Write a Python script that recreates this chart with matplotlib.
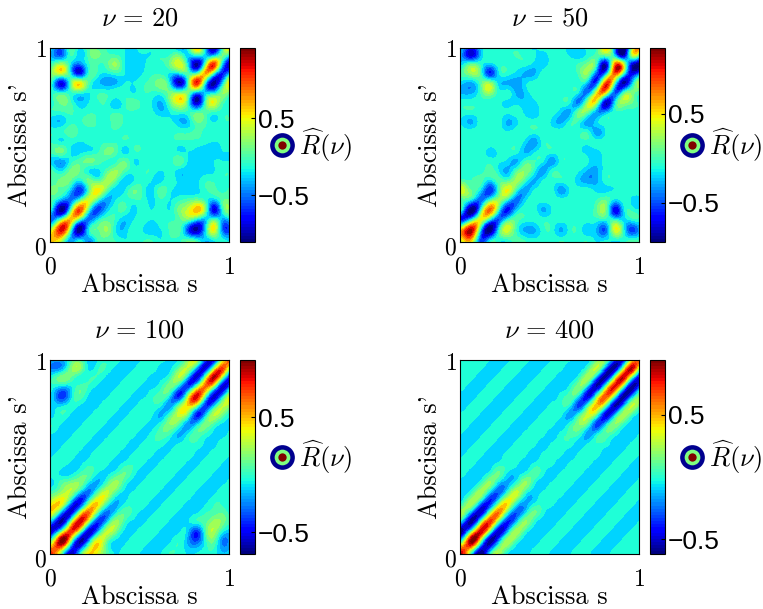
import numpy as np
import matplotlib
matplotlib.use('Agg')
import matplotlib.pyplot as plt
from matplotlib.cm import ScalarMappable
from matplotlib.colors import ListedColormap, Normalize
from matplotlib.transforms import ScaledTranslation

plt.rcParams['mathtext.fontset'] = 'cm'

# Values, rows go from s'=0 up to s'=1
field_20 = [
    [.7,.5,-.3,-.2,-.3,.05,.1,0,-.1,-.05,0,0,-.1,0,0,.05,-.1,-.2,0,-.1,-.2],
    [.5,1.25,.2,-1.0,-.1,.15,.3,-.1,-.2,0,-.1,-.2,-.1,.05,.1,-.5,-.9,-.1,.55,-.5,-.3],
    [-.4,.3,.75,.1,-.4,-.1,.1,0,-.2,-.1,0,-.1,0,0,.1,.2,-.1,-.2,.1,-.3,.05],
    [-.2,-1.0,.1,1.05,.1,-.55,-.2,0,.05,-.15,0,-.1,0,-.1,.2,.45,.75,.2,-.75,.1,.15],
    [.05,-.3,-.4,.1,.5,.05,-.3,-.1,0,0,0,-.15,0,-.1,0,.1,.2,0,-.2,.15,.1],
    [.2,.1,-.2,-.6,.1,.6,.15,-.2,-.1,.15,0,-.15,.1,-.05,-.15,-.2,-.15,0,.05,0,.1],
    [.1,.2,.15,-.1,.2,.1,.35,.15,-.2,-.1,0,-.1,-.15,0,-.15,-.2,-.15,0,0,0,0],
    [.05,-.1,.2,.15,-.1,-.15,.1,.3,.1,-.05,0,0,-.1,-.05,-.15,-.2,-.2,-.15,-.1,0,0],
    [-.2,-.3,-.05,.1,.2,.1,0,0,.15,-.1,-.05,0,0,-.05,.15,-.1,-.15,-.15,-.1,-.1,-.1],
    [.1,.2,-.1,-.15,-.1,0,.2,.1,-.15,0,0,0,0,0,-.1,-.1,-.15,-.2,-.15,-.1,-.1],
    [0,-.1,-.05,-.1,-.05,0,0,0,0,0,0,0,0,0,0,0,0,-.05,-.1,-.05,0],
    [0,0,.1,0,-.05,0,0,0,0,0,0,0,0,0,0,0,.05,0,0,0,0],
    [-.2,-.2,0,0,.1,0,-.05,.1,0,0,0,0,0,-.05,-.2,-.2,.15,.05,-.1,0,0],
    [0,0,.05,-.05,0,0,0,0,0,0,0,-.05,-.2,-.1,0,0,.1,.1,0,0,0],
    [0,.2,.05,-.2,-.1,0,0,-.2,0,.1,0,-.1,-.25,.15,.55,.1,-.85,.1,.5,.05,0],
    [0,0,0,0,-.1,0,0,0,0,-.1,0,0,0,.2,.3,.2,-.3,-.2,-.1,.3,0],
    [-.1,-.75,.15,.6,.1,-.2,-.3,-.25,-.1,-.1,0,.1,.25,-.1,-.85,0,1.15,-.1,-.9,0,.9],
    [.3,.45,-.1,-.7,0,0,-.1,0,-.1,-.2,-.1,0,0,-.1,-.1,.1,.1,.8,0,-.6,.1],
    [.05,.3,-.1,-.35,0,.05,.1,.3,-.1,-.2,-.15,0,0,.2,.5,-.1,-.9,.2,1.05,-.3,-.85],
    [-.3,-.5,.05,-.2,.1,.2,.05,0,-.1,-.15,-.1,-.1,0,0,.1,-.15,.2,-.2,-.4,.2,-.1],
    [-.1,-.2,.1,0,.1,0,0,-.1,-.1,-.1,0,0,-.1,0,-.4,.1,.8,-.1,-.8,.2,1.2],
]
field_50 = [
    [.6,.7,-.4,-.2,0,.05,.1,0,-.05,0,0,0,0,0,0,-.1,-.1,0,0,0,0],
    [.7,1.15,0,-.9,-.1,.45,.05,-.2,-.2,0,0,-.2,0,0,-.15,-.2,-.35,.45,0,-.45,-.1],
    [-.5,0,.5,0,-.4,0,.1,0,0,0,0,0,0,0,0,0,0,0,-.1,0,0],
    [-.1,-.9,0,.85,.1,-.55,-.15,0,0,-.2,-.05,0,0,0,0,.15,.2,-.6,-.1,0,-.05],
    [.1,-.1,-.35,.1,.3,0,-.35,-.1,0,0,0,0,0,0,0,.05,.15,-.1,0,-.1,-.1],
    [.45,.15,-.1,-.5,.05,.5,.05,-.25,-.05,0,0,-.25,-.05,0,0,-.1,-.1,-.05,0,0,0],
    [.1,.05,.1,-.1,.1,.1,.3,.05,-.2,-.05,0,0,0,-.15,-.25,-.2,0,0,0,0,0],
    [-.05,0,0,.1,-.05,-.2,.1,.25,0,-.25,0,0,0,-.05,-.2,-.2,0,0,0,0,0],
    [0,0,0,0,-.05,-.1,-.2,.05,.05,-.05,-.25,0,0,0,-.05,-.15,0,0,0,0,0],
    [-.05,0,0,-.1,-.05,0,0,-.2,-.1,0,0,0,0,-.05,-.1,-.1,0,0,0,0,0],
    [0,-.05,0,0,0,0,0,-.1,-.25,0,0,0,0,0,0,0,0,0,0,0,0],
    [0,0,0,0,0,-.05,0,0,0,0,0,0,0,0,0,-.25,-.05,0,0,0,0],
    [-.1,-.2,0,0,0,-.2,-.1,0,0,0,-.1,-.2,0,0,-.25,-.1,0,0,0,0,0],
    [0,0,0,0,0,-.05,0,-.1,-.15,0,0,-.15,-.2,.2,.15,-.25,-.2,0,0,0,0],
    [0,0,0,-.05,-.05,-.1,-.1,-.15,-.1,0,0,0,-.05,-.3,.35,.35,-.7,-.1,.3,.15,0],
    [-.2,-.2,.05,.3,0,0,-.2,-.15,0,0,0,0,0,-.1,-.3,.55,.55,-.4,.1,.2,.05],
    [-.15,-.2,.1,.3,-.1,-.2,-.25,-.1,0,0,0,0,0,0,-.2,-.35,.95,.15,-.75,-.1,.45],
    [.1,.3,.1,-.5,-.1,0,-.1,-.2,-.2,0,0,0,0,.1,.25,-.4,-.2,.9,.1,-.6,-.2],
    [-.1,.1,0,-.1,0,0,0,0,-.1,-.15,0,0,0,.05,.2,0,-.65,.75,.4,-.6,-.7],
    [-.3,-.7,-.2,0,0,0,.05,0,-.05,-.1,0,0,-.1,-.15,-.05,.1,.3,-.2,-.85,.5,.1],
    [-.1,-.2,-.05,0,0,0,0,-.05,-.1,0,0,0,-.15,-.1,0,.1,.55,-.1,-.7,.1,1.1],
]
field_100 = [
    [.65,.25,-.5,-.2,.35,.35,.05,-.12,-.05,-.04,-.11,-.14,-.11,-.02,-.04,-.12,-.12,-.04,-.05,-.2,-.1],
    [.25,.98,.2,-.62,-.2,.38,.1,-.12,-.12,-.04,-.04,-.11,-.14,-.11,-.02,-.2,-.35,-.04,.05,-.3,-.1],
    [-.5,.2,.72,.18,-.55,-.2,.25,.12,-.12,-.12,-.04,-.04,-.11,-.14,-.11,-.15,-.42,.05,.2,-.1,-.12],
    [-.3,-.62,.18,.82,.2,-.42,-.15,.2,0,-.12,-.12,-.04,-.04,-.11,-.14,-.11,-.04,.05,.2,.1,-.04],
    [.35,-.2,-.55,.2,.6,.1,-.3,-.1,.05,-.04,-.12,-.12,-.04,-.04,-.11,-.14,-.11,-.02,.03,.05,-.12],
    [.35,.38,-.2,-.5,.1,.42,.08,-.2,-.1,-.04,-.04,-.12,-.12,-.04,-.04,-.11,-.14,-.11,-.02,-.04,-.12],
    [.05,.2,.22,-.15,-.3,.08,.28,.03,-.12,-.08,-.04,-.04,-.12,-.12,-.04,-.04,-.11,-.14,-.11,-.02,-.04],
    [-.12,.05,.15,.15,-.1,-.2,.03,.2,-.02,-.13,-.08,-.04,-.04,-.12,-.12,-.04,-.04,-.11,-.14,-.11,-.02],
    [-.05,-.12,-.12,0,.05,-.1,-.12,-.02,.08,-.06,-.13,-.08,-.04,-.04,-.12,-.12,-.04,-.04,-.11,-.14,-.11],
    [-.04,-.04,-.12,-.12,-.04,-.04,-.08,-.13,-.06,-.02,-.08,-.13,-.08,-.04,-.04,-.12,-.12,-.04,-.04,-.11,-.14],
    [-.11,-.04,-.04,-.12,-.12,-.04,-.04,-.08,-.13,-.08,-.04,-.08,-.13,-.08,-.04,-.04,-.12,-.12,-.04,-.04,-.11],
    [-.14,-.11,-.04,-.04,-.12,-.12,-.04,-.04,-.08,-.13,-.08,-.04,-.06,-.13,-.08,-.04,-.04,-.12,-.12,-.04,-.04],
    [-.11,-.14,-.11,-.04,-.04,-.12,-.12,-.04,-.04,-.08,-.13,-.06,.03,-.02,-.2,-.08,.04,-.04,-.12,-.12,-.04],
    [-.02,-.11,-.14,-.11,-.04,-.04,-.12,-.12,-.04,-.04,-.08,-.13,-.02,.15,.03,-.25,-.1,.12,-.02,-.12,-.12],
    [-.12,-.02,-.11,-.14,-.11,-.04,-.04,-.12,-.12,-.04,-.04,-.08,-.2,.03,.27,.1,-.45,-.12,.25,.05,-.1],
    [-.12,-.12,-.04,-.1,-.14,-.11,-.04,-.04,-.12,-.12,-.04,-.04,-.08,-.25,.1,.42,.2,-.42,-.1,.25,.15],
    [-.15,-.42,-.15,.05,-.11,-.14,-.11,-.04,-.04,-.12,-.12,-.04,.04,-.1,-.45,.2,.8,.1,-.55,-.1,.45],
    [-.05,-.12,-.1,.02,-.02,-.11,-.14,-.11,-.04,-.04,-.12,-.12,-.04,.12,-.12,-.42,.1,.6,.15,-.55,-.1],
    [-.04,.12,.1,-.05,-.04,-.02,-.11,-.14,-.11,-.04,-.04,-.12,-.12,-.02,.25,-.1,-.55,.15,.85,.15,-.65],
    [-.3,-.25,.1,.2,-.12,-.04,-.02,-.11,-.14,-.11,-.04,-.04,-.12,-.12,.05,.25,-.1,-.55,.15,.65,.15],
    [-.1,-.1,-.04,-.04,-.12,-.12,-.04,-.02,-.11,-.14,-.11,-.04,-.04,-.12,-.12,.1,.42,-.2,-.62,.15,.8],
]
field_400 = [
    [.7,.15,-.55,-.2,.2,0,-.12,-.12,-.04,-.01,-.09,-.14,-.09,-.02,-.04,-.12,-.12,-.04,-.01,-.01,-.02],
    [.15,.9,.2,-.58,-.2,.22,.02,-.12,-.12,-.04,-.01,-.09,-.14,-.09,-.02,-.04,-.12,-.12,-.04,-.01,-.01],
    [-.55,.2,.78,.15,-.52,-.15,.22,0,-.12,-.12,-.04,-.01,-.09,-.14,-.09,-.02,-.04,-.12,-.12,-.04,-.01],
    [-.2,-.58,.15,.68,.1,-.4,-.12,.18,-.02,-.12,-.12,-.04,-.01,-.09,-.14,-.09,-.02,-.04,-.12,-.12,-.04],
    [.2,-.2,-.52,.1,.55,.07,-.3,-.1,.1,-.04,-.12,-.12,-.04,-.01,-.09,-.14,-.09,-.02,-.04,-.12,-.12],
    [0,.22,-.15,-.4,.07,.38,.03,-.18,-.08,-.01,-.04,-.12,-.12,-.04,-.01,-.09,-.14,-.09,-.02,-.04,-.12],
    [-.12,.02,.22,-.12,-.3,.03,.28,0,-.12,-.05,-.01,-.04,-.12,-.12,-.04,-.01,-.09,-.14,-.09,-.02,-.04],
    [-.12,-.12,0,.18,-.1,-.18,0,.18,-.03,-.13,-.05,-.01,-.04,-.12,-.12,-.04,-.01,-.09,-.14,-.09,-.02],
    [-.04,-.12,-.12,-.02,.1,-.08,-.12,-.03,.06,-.05,-.13,-.05,-.01,-.04,-.12,-.12,-.04,-.01,-.09,-.14,-.09],
    [-.01,-.04,-.12,-.12,-.04,-.01,-.05,-.13,-.05,-.03,-.05,-.13,-.05,-.01,-.04,-.12,-.12,-.04,-.01,-.09,-.14],
    [-.09,-.01,-.04,-.12,-.12,-.04,-.01,-.05,-.13,-.05,-.03,-.05,-.13,-.05,-.01,-.04,-.12,-.12,-.04,-.01,-.09],
    [-.14,-.09,-.01,-.04,-.12,-.12,-.04,-.01,-.05,-.13,-.05,-.03,-.03,-.13,-.05,-.01,-.04,-.12,-.12,-.04,-.01],
    [-.09,-.14,-.09,-.01,-.04,-.12,-.12,-.04,-.01,-.05,-.13,-.03,.02,0,-.2,-.05,.06,-.04,-.12,-.12,-.04],
    [-.02,-.09,-.14,-.09,-.01,-.04,-.12,-.12,-.04,-.01,-.05,-.13,0,.15,.03,-.35,-.08,.15,-.02,-.12,-.12],
    [-.04,-.02,-.09,-.14,-.09,-.01,-.04,-.12,-.12,-.04,-.01,-.05,-.2,.03,.28,.05,-.48,-.12,.22,0,-.12],
    [-.12,-.04,-.02,-.09,-.14,-.09,-.01,-.04,-.12,-.12,-.04,-.01,-.05,-.35,.05,.45,.1,-.55,-.15,.25,.02],
    [-.12,-.12,-.04,-.02,-.09,-.14,-.09,-.01,-.04,-.12,-.12,-.04,.06,-.08,-.48,.1,.62,.12,-.58,-.18,.22],
    [-.04,-.12,-.12,-.04,-.02,-.09,-.14,-.09,-.01,-.04,-.12,-.12,-.04,.15,-.12,-.55,.12,.72,.12,-.58,-.18],
    [-.01,-.04,-.12,-.12,-.04,-.02,-.09,-.14,-.09,-.01,-.04,-.12,-.12,-.02,.22,-.15,-.58,.12,.78,.12,-.55],
    [-.01,-.01,-.04,-.12,-.12,-.04,-.02,-.09,-.14,-.09,-.01,-.04,-.12,-.12,0,.25,-.18,-.58,.12,.78,.12],
    [-.02,-.01,-.01,-.04,-.12,-.12,-.04,-.02,-.09,-.14,-.09,-.01,-.04,-.12,-.12,.02,.22,-.18,-.55,.12,.75],
]

fields = [field_20, field_50, field_100, field_400]
titles = ['20', '50', '100', '400']
vmins = [-1.11, -0.94, -0.69, -0.62]
vmaxs = [1.41, 1.24, 1.00, 0.94]
cbar_ticks = [-0.5, 0.5]
# moves the colour bands a little so that the flat background gets the same turquoise
band_shift = [0.03, 0.03, -0.02, -0.02]

W, H = 763, 609
lefts = [50, 460, 50, 460]
tops = [48, 48, 360, 360]

fig = plt.figure(figsize=(W / 100, H / 100), dpi=100)
jet = plt.get_cmap('jet')

for n in range(4):
    x0, y0 = lefts[n], tops[n]
    ax = fig.add_axes([x0 / W, 1 - (y0 + 194) / H, 179 / W, 194 / H])
    bands = ListedColormap(jet(np.clip(np.linspace(0, 1, 20) - band_shift[n], 0, 1)))
    # lanczos keeps the diagonal bands in one piece, catrom broke them into beads
    im = ax.imshow(np.array(fields[n]), origin='lower', extent=(-0.01, 1.04, -0.01, 1.04),
                   cmap=bands, vmin=vmins[n], vmax=vmaxs[n],
                   interpolation='lanczos', aspect='auto')
    ax.set_xlim(0, 1)
    ax.set_ylim(0, 1)
    ax.set_xticks([0, 1])
    ax.set_yticks([0, 1])
    ax.set_xticklabels(['$0$', '$1$'], fontsize=17)
    ax.set_yticklabels(['$0$', '$1$'], fontsize=17)
    ax.tick_params(length=0, pad=2)
    ax.tick_params(axis='x', pad=9)
    lab = ax.get_yticklabels()[0]
    lab.set_transform(lab.get_transform() + ScaledTranslation(0, -3 / 100, fig.dpi_scale_trans))
    ax.set_xlabel('Abscissa s', family='cmr10', fontsize=19, labelpad=-4)
    ax.set_ylabel("Abscissa s'", family='cmr10', fontsize=19, labelpad=2)
    ax.set_title(r'$\nu\,=\,%s$' % titles[n], fontsize=19, pad=16)

    # colorbar keeps the finer 64 colour map
    cax = fig.add_axes([(x0 + 190) / W, 1 - (y0 + 194) / H, 15 / W, 194 / H])
    sm = ScalarMappable(Normalize(vmins[n], vmaxs[n]), plt.get_cmap('jet', 64))
    cb = fig.colorbar(sm, cax=cax, ticks=cbar_ticks)
    cb.ax.set_yticklabels(['\u22120.5', '0.5'], family='Liberation Sans', fontsize=19)
    cb.ax.tick_params(direction='in', length=3, width=0.8, pad=2)
    cb.outline.set_linewidth(0.8)

    # the small target marker and its label
    for size, col in [(17.8, '#00008f'), (11.3, '#80ff80'), (6, '#800000')]:
        ax.plot([1.296], [0.5], 'o', ms=size, color=col, mew=0,
                transform=ax.transAxes, clip_on=False)
    ax.text(1.39, 0.5, r'$\widehat{R}(\nu)$', fontsize=19, va='center',
            transform=ax.transAxes)

fig.savefig('out.png', dpi=100)
